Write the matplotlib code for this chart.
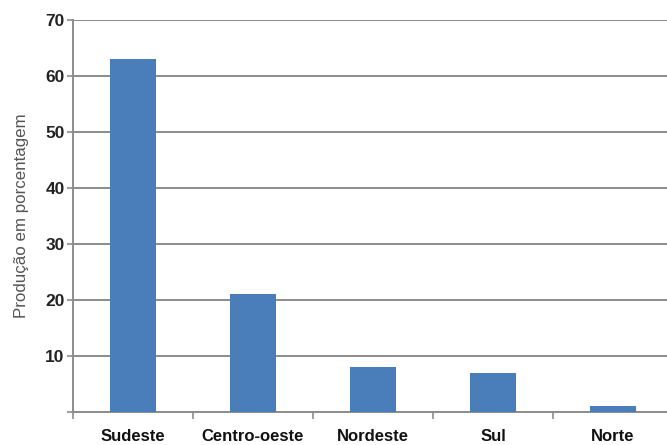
import numpy as np
import matplotlib.pyplot as plt

# dados
regioes = ["Sudeste", "Centro-oeste", "Nordeste", "Sul", "Norte"]
producao = [63, 21, 8, 7, 1]
yticks = [0, 10, 20, 30, 40, 50, 60, 70]
ytick_labels = ["", "10", "20", "30", "40", "50", "60", "70"]

plt.rcParams['font.family'] = ['Liberation Sans', 'DejaVu Sans']

fig = plt.figure(figsize=(6.67, 4.45), dpi=100)
ax = fig.add_axes([0.1094, 0.0742, 0.8996, 0.8809])

x = np.arange(len(regioes))
ax.bar(x, producao, width=0.39, color="#4a7ebb", zorder=3)

ax.set_xlim(-0.5, len(regioes) - 0.5)
ax.set_ylim(0, 70)
ax.set_yticks(yticks)
ax.set_yticklabels(ytick_labels, fontsize=12.5, fontweight='bold', color="#222222")
ax.yaxis.grid(True, color="#8c8c8c", linewidth=1.4, zorder=0)

ax.set_xticks(x)
ax.set_xticklabels(regioes, fontsize=12, fontweight='bold', color="#111111")
ax.tick_params(axis='x', which='major', length=0, pad=12)
ax.set_xticks(np.arange(-0.5, len(regioes), 1), minor=True)
ax.tick_params(axis='x', which='minor', length=5, color="#8c8c8c", width=1.2)
ax.tick_params(axis='y', length=4, color="#8c8c8c", width=1.2, pad=2)

for s in ['top', 'right']:
    ax.spines[s].set_visible(False)
for s in ['left', 'bottom']:
    ax.spines[s].set_color("#8c8c8c")
    ax.spines[s].set_linewidth(1.4)

ax.set_ylabel("Produção em porcentagem", fontsize=12.2, color="#555555", labelpad=12)

fig.savefig("out.png", dpi=100)
